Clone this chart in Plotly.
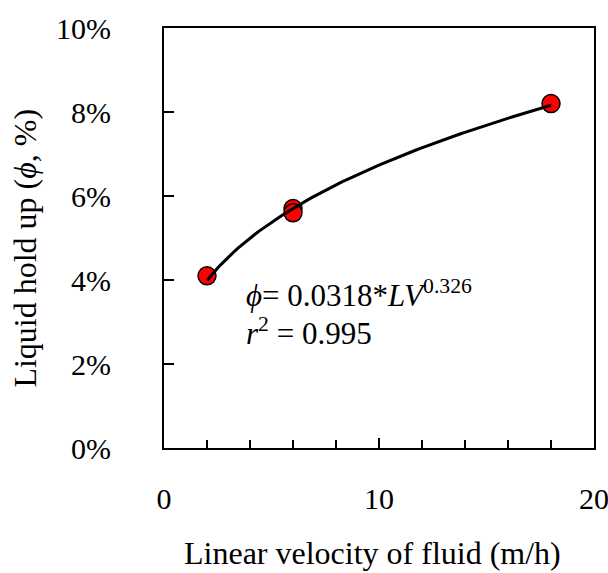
import numpy as np
import plotly.graph_objects as go

# data
lv = [2, 6, 6, 18]                      # linear velocity (m/h)
holdup = [0.041, 0.057, 0.056, 0.082]   # liquid hold up (fraction)

# fit shown in the chart: phi = a * LV^b
fit_a = 0.0318
fit_b = 0.326
fit_x = np.linspace(2, 18, 100)
fit_y = fit_a * fit_x ** fit_b

y_ticks = [0, 0.02, 0.04, 0.06, 0.08, 0.10]
x_ticks = [0, 10, 20]

FONT = "Liberation Serif"
FS = 30
FS_TITLE = 32

fig = go.Figure()
fig.add_trace(go.Scatter(x=lv, y=holdup, mode="markers",
                         marker=dict(color="#ff0000", size=18,
                                     line=dict(color="black", width=1.5)),
                         showlegend=False))
fig.add_trace(go.Scatter(x=fit_x, y=fit_y, mode="lines",
                         line=dict(color="black", width=3),
                         showlegend=False))

fig.add_annotation(x=3.72, y=0.0369, xref="x", yref="y", xanchor="left", yanchor="middle",
                   text="<i>ϕ</i>= 0.0318*<i>LV</i><sup>0.326</sup>",
                   showarrow=False, font=dict(family=FONT, size=31, color="black"))
fig.add_annotation(x=3.72, y=0.0277, xref="x", yref="y", xanchor="left", yanchor="middle",
                   text="<i>r</i><sup>2</sup> = 0.995",
                   showarrow=False, font=dict(family=FONT, size=31, color="black"))

# axis titles
fig.add_annotation(x=0.484, y=-0.25, xref="paper", yref="paper", xanchor="center", yanchor="middle",
                   text="Linear velocity of fluid (m/h)", showarrow=False,
                   font=dict(family=FONT, size=FS_TITLE, color="black"))
fig.add_annotation(x=-0.322, y=0.476, xref="paper", yref="paper", xanchor="center", yanchor="middle",
                   text="Liquid hold up (<i>ϕ</i>, %)", showarrow=False, textangle=-90,
                   font=dict(family=FONT, size=FS_TITLE, color="black"))

fig.update_xaxes(range=[0, 20], tickvals=x_ticks, ticks="inside", ticklen=10, tickwidth=1.5,
                 tickcolor="black",
                 minor=dict(dtick=2, ticks="inside", ticklen=8, tickwidth=1.5, tickcolor="black"),
                 showline=True, linecolor="black", linewidth=2, mirror=True,
                 showgrid=False, zeroline=False, ticklabelstandoff=23, automargin=False,
                 ticklabeloverflow="allow",
                 tickfont=dict(family=FONT, size=FS, color="black"))
fig.update_yaxes(range=[0, 0.10], tickvals=y_ticks, tickformat=".0%", ticks="inside",
                 ticklen=10, tickwidth=1.5, tickcolor="black",
                 showline=True, linecolor="black", linewidth=2, mirror=True,
                 showgrid=False, zeroline=False, ticklabelstandoff=45, automargin=False,
                 ticklabeloverflow="allow",
                 tickfont=dict(family=FONT, size=FS, color="black"))

fig.update_layout(width=608, height=573,
                  margin=dict(l=164, r=14, t=28, b=125),
                  plot_bgcolor="white", paper_bgcolor="white")

fig.write_html("out.html", config={"displayModeBar": False},
               post_script="document.body.style.margin='0';document.body.style.overflow='hidden';")
